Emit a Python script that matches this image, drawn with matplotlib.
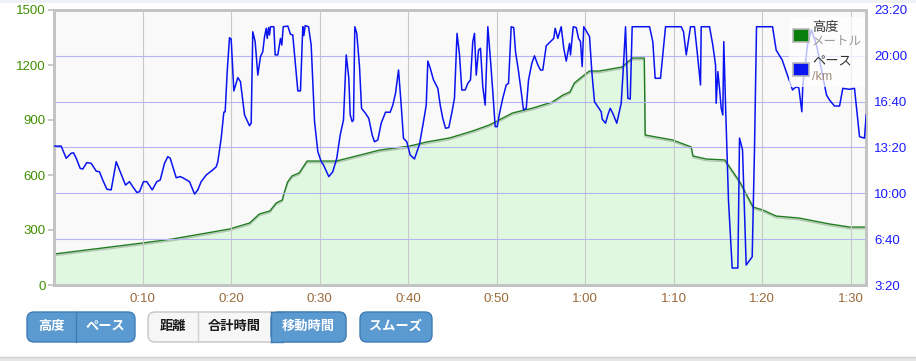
import matplotlib
matplotlib.use("Agg")
import matplotlib.pyplot as plt
import matplotlib.patheffects as pe
from matplotlib.patches import FancyBboxPatch, Rectangle
from matplotlib.ticker import FuncFormatter

plt.rcParams['font.family'] = ['Liberation Sans', 'Noto Sans CJK JP', 'DejaVu Sans']

# altitude (m) vs moving time (min)
alt_t = [0.0, 10.0, 13.4, 19.8, 22.1, 23.2, 24.4, 25.1, 25.8, 26.0, 26.4, 26.9, 27.7,
         28.6, 31.9, 36.8, 40.2, 42.1, 44.7, 47.3, 49.2, 51.8, 54.1, 56.3, 57.5, 58.3,
         58.8, 59.9, 60.5, 61.6, 64.2, 64.8, 65.4, 66.7, 66.8, 69.9, 72.0, 72.2, 73.7,
         75.8, 77.5, 79.0, 80.1, 81.6, 84.2, 87.6, 89.9, 91.75]
alt_m = [169, 229, 251, 305, 338, 387, 404, 447, 464, 502, 562, 595, 611,
         676, 676, 736, 758, 780, 802, 840, 873, 938, 965, 998, 1036, 1053,
         1102, 1145, 1167, 1167, 1189, 1216, 1238, 1238, 818, 791, 753, 704, 687,
         682, 562, 425, 409, 376, 365, 333, 316, 316]

# pace (seconds per km) vs moving time (min)
pace_t = [0.06, 0.81, 1.38, 1.94, 2.20, 2.51, 2.96, 3.25, 3.71, 4.20, 4.77, 5.14, 5.51,
          5.97, 6.46, 7.03, 7.40, 7.71, 8.08, 8.53, 8.90, 9.36, 9.66, 10.11, 10.49,
          11.10, 11.62, 12.00, 12.49, 12.86, 13.13, 13.81, 14.26, 14.55, 15.31, 15.88,
          16.25, 16.63, 17.20, 17.94, 18.33, 18.51, 18.89, 19.19, 19.34, 19.57, 19.83,
          20.02, 20.32, 20.77, 21.07, 21.53, 22.09, 22.28, 22.46, 22.73, 23.03, 23.33,
          23.59, 23.79, 23.98, 24.09, 24.24, 24.35, 24.46, 24.84, 24.99, 25.29, 25.59,
          25.74, 25.90, 26.42, 26.72, 26.98, 27.25, 27.55, 27.85, 28.11, 28.23, 28.38,
          28.76, 29.06, 29.44, 29.81, 30.19, 30.45, 31.05, 31.50, 31.95, 32.34, 32.71,
          33.02, 33.31, 33.47, 33.69, 33.84, 33.99, 34.21, 34.52, 34.75, 35.20, 35.57,
          35.95, 36.21, 36.59, 36.97, 37.46, 37.99, 38.28, 38.59, 38.93, 39.23, 39.49,
          39.86, 40.25, 40.73, 41.30, 41.75, 42.06, 42.24, 42.51, 42.88, 43.37, 43.64,
          43.93, 44.24, 44.61, 44.99, 45.25, 45.54, 45.82, 46.08, 46.46, 46.76, 47.06,
          47.32, 47.51, 47.71, 47.97, 48.19, 48.45, 48.72, 49.02, 49.32, 49.58, 49.85,
          50.08, 50.34, 50.71, 51.10, 51.36, 51.66, 51.95, 52.15, 52.49, 52.79, 53.05,
          53.36, 53.62, 53.99, 54.29, 54.67, 54.97, 55.23, 55.62, 56.18, 56.47, 56.63,
          56.93, 57.31, 57.60, 57.88, 58.25, 58.36, 58.67, 59.01, 59.27, 59.49, 59.68,
          59.86, 60.40, 60.51, 60.77, 61.07, 61.45, 61.83, 61.94, 62.32, 62.58, 62.85,
          63.14, 63.59, 64.09, 64.35, 64.58, 64.84, 65.11, 65.33, 67.29, 67.66, 67.93,
          68.53, 69.10, 70.87, 71.13, 71.44, 71.92, 72.37, 72.75, 73.05, 73.13, 74.07,
          74.44, 74.75, 74.82, 75.01, 75.20, 75.39, 75.57, 75.68, 75.88, 76.21, 76.63,
          77.27, 77.46, 77.80, 78.21, 78.89, 79.15, 79.38, 81.19, 81.60, 82.28, 83.45,
          83.86, 84.16, 84.50, 84.61, 85.14, 85.59, 86.16, 86.72, 87.29, 87.63, 88.19,
          88.76, 89.13, 89.89, 90.45, 91.02, 91.58, 91.77]
pace_s = [806, 806, 753, 775, 777, 753, 709, 706, 734, 731, 697, 694, 658,
          618, 615, 738, 702, 673, 636, 651, 629, 604, 607, 651, 651,
          615, 651, 658, 731, 760, 753, 668, 673, 668, 651, 597,
          615, 651, 680, 702, 716, 738, 840, 954, 956, 1131, 1279,
          1273, 1047, 1105, 1087, 942, 895, 906, 1305, 1262, 1116, 1196,
          1218, 1284, 1320, 1276, 1323, 1291, 1327, 1327, 1204, 1204, 1276,
          1247, 1327, 1330, 1294, 1291, 1174, 1047, 1047, 1327, 1288, 1332,
          1327, 1247, 913, 782, 738, 724, 673, 694, 753, 855, 920,
          1204, 1102, 942, 913, 920, 1327, 1298, 1153, 971, 949, 927,
          855, 825, 833, 906, 954, 954, 985, 1037, 1138, 985, 840,
          825, 767, 750, 814, 913, 985, 1177, 1146, 1095, 1058, 985,
          927, 884, 887, 959, 1015, 1298, 1204, 1051, 1051, 1080, 1095,
          1262, 1298, 1116, 1225, 1233, 1065, 985, 1327, 1182, 1044, 891,
          891, 949, 1015, 1073, 1080, 1327, 1323, 1218, 1131, 1044, 964,
          971, 1095, 1167, 1200, 1160, 1138, 1138, 1244, 1265, 1276, 1320,
          1276, 1327, 1233, 1177, 1254, 1204, 1327, 1323, 1276, 1262, 1153,
          1327, 1291, 1284, 1131, 1000, 978, 956, 924, 906, 942, 971,
          949, 906, 993, 1160, 1327, 1015, 1011, 1327, 1327, 1262, 1102,
          1102, 1327, 1327, 1305, 1204, 1327, 1327, 1189, 1073, 1327, 1327,
          1247, 1160, 993, 1131, 1058, 971, 942, 1262, 985, 571, 274,
          274, 841, 789, 287, 323, 789, 1327, 1327, 1225, 1182, 1051,
          1065, 1060, 956, 1073, 1247, 1313, 1247, 1138, 1029, 1007, 981,
          981, 1058, 1054, 1058, 847, 841, 942]

x_ticks = [10, 20, 30, 40, 50, 60, 70, 80, 90]
x_labels = ['0:10', '0:20', '0:30', '0:40', '0:50', '1:00', '1:10', '1:20', '1:30']
alt_ticks = [0, 300, 600, 900, 1200, 1500]
pace_ticks = [200, 400, 600, 800, 1000, 1200, 1400]

W, H = 916, 361
fig = plt.figure(figsize=(W / 100, H / 100), dpi=100)
fig.patch.set_facecolor('white')

ax = fig.add_axes([54 / W, 1 - 285 / H, 812 / W, 275 / H])
ax.set_facecolor('#f9f9f9')
ax.fill_between(alt_t, alt_m, 0, color='#e0f8e0', lw=0, zorder=1)
ax.plot(alt_t, alt_m, color='#1f7d1f', lw=1.0, zorder=2,
        path_effects=[pe.SimpleLineShadow(offset=(0, -1.2), shadow_color='#666666', alpha=0.35),
                      pe.Normal()])
ax.set_xlim(0, 91.75)
ax.set_ylim(0, 1500)
ax.set_yticks(alt_ticks)
ax.set_xticks(x_ticks)
ax.set_xticklabels(x_labels)
ax.tick_params(axis='y', colors='#c0c0c0', labelcolor='#3f8f00', labelsize=9.5,
               length=4, width=1.2, pad=2)
ax.tick_params(axis='x', length=0, labelcolor='#9a6a3a', labelsize=9.5, pad=6)
ax.grid(axis='x', color='#c8c8c8', lw=0.8)
ax.set_axisbelow(False)
for s in ax.spines.values():
    s.set_color('#c4c4c4')
    s.set_linewidth(2)

ax2 = ax.twinx()
ax2.plot(pace_t, pace_s, color='#0a14f0', lw=1.1, zorder=3)
ax2.set_ylim(200, 1400)
ax2.set_yticks(pace_ticks)
ax2.yaxis.set_major_formatter(FuncFormatter(lambda v, p: f"{int(v // 60)}:{int(v % 60):02d}"))
ax2.tick_params(axis='y', length=0, labelcolor='#1a1aff', labelsize=9.5, pad=6)
ax2.grid(axis='y', color='#b4b4f4', lw=0.8)
for s in ax2.spines.values():
    s.set_color('#c4c4c4')
    s.set_linewidth(2)

# overlay in pixel coordinates for legend and buttons
ov = fig.add_axes([0, 0, 1, 1], zorder=10)
ov.set_xlim(0, W)
ov.set_ylim(H, 0)
ov.axis('off')
ov.patch.set_alpha(0)

# thin header band at the very top
ov.add_patch(Rectangle((0, 0), W, 3, facecolor='#eef2f6', lw=0))

ov.add_patch(Rectangle((789, 17), 76, 70, facecolor='white', alpha=0.72, lw=0))
ov.add_patch(Rectangle((793, 28.5), 16, 13, facecolor='#0a7d0a', edgecolor='#b8b8b8', lw=1.2))
ov.add_patch(Rectangle((793, 62.5), 16, 13, facecolor='#0a14f0', edgecolor='#b8b8b8', lw=1.2))
ov.text(812, 28, '高度', fontsize=9.5, color='#333333', va='center', ha='left')
ov.text(812, 42, 'メートル', fontsize=9, color='#9a9a9a', va='center', ha='left')
ov.text(812, 62, 'ペース', fontsize=9.5, color='#333333', va='center', ha='left')
ov.text(812, 77, '/km', fontsize=9, color='#a08a78', va='center', ha='left')

# bottom panel edge
ov.add_patch(Rectangle((0, 357), W, 5, facecolor='#e6e6e6', lw=0))
ov.plot([0, W], [357, 357], color='#cfcfcf', lw=1)

BLUE = '#5a9ad0'
BLUE_EDGE = '#3f7db5'


def group(x0, x1, y0, y1, fc, ec):
    ov.add_patch(FancyBboxPatch((x0, y0), x1 - x0, y1 - y0,
                                boxstyle='round,pad=0,rounding_size=7',
                                facecolor=fc, edgecolor=ec, lw=1))


y0, y1 = 312, 342
# 高度 | ペース
group(27, 135, y0, y1, BLUE, BLUE_EDGE)
ov.plot([76, 76], [y0, y1], color=BLUE_EDGE, lw=1)
ov.text(51.5, 327, '高度', color='white', fontsize=9.5, fontweight='bold', ha='center', va='center')
ov.text(105.5, 327, 'ペース', color='white', fontsize=9.5, fontweight='bold', ha='center', va='center')

# 距離 | 合計時間 | 移動時間
group(148, 346, y0, y1, '#f6f6f6', '#c6c6c6')
group(271, 346, y0, y1, BLUE, BLUE_EDGE)
ov.add_patch(Rectangle((271, y0 + 0.5), 12, y1 - y0 - 1, facecolor=BLUE, lw=0))
ov.plot([271, 283], [y0, y0], color=BLUE_EDGE, lw=1)
ov.plot([271, 283], [y1, y1], color=BLUE_EDGE, lw=1)
ov.plot([197.5, 197.5], [y0, y1], color='#d0d0d0', lw=1)
ov.plot([271, 271], [y0, y1], color=BLUE_EDGE, lw=1)
ov.text(173, 327, '距離', color='#1a1a1a', fontsize=9.5, fontweight='bold', ha='center', va='center')
ov.text(234, 327, '合計時間', color='#1a1a1a', fontsize=9.5, fontweight='bold', ha='center', va='center')
ov.text(308.5, 327, '移動時間', color='white', fontsize=9.5, fontweight='bold', ha='center', va='center')

# スムーズ
group(360, 432, y0, y1, BLUE, BLUE_EDGE)
ov.text(396, 327, 'スムーズ', color='white', fontsize=9.5, fontweight='bold', ha='center', va='center')

fig.savefig('out.png', dpi=100)
